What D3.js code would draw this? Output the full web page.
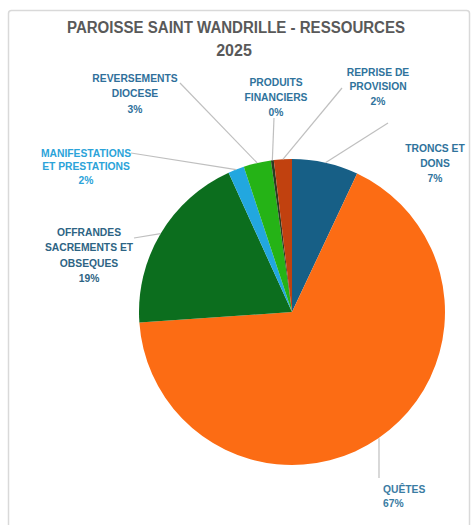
<!DOCTYPE html>
<html>
<head>
<meta charset="utf-8">
<script src="https://cdn.jsdelivr.net/npm/d3@7"></script>
<style>
  html, body { margin: 0; padding: 0; background: #ffffff; }
  svg { display: block; }
</style>
</head>
<body>
<svg id="chart" width="476" height="525"></svg>
<script>
// ---- Data ----
const categories = [
  "TRONCS ET DONS",
  "QUÊTES",
  "OFFRANDES SACREMENTS ET OBSEQUES",
  "MANIFESTATIONS ET PRESTATIONS",
  "REVERSEMENTS DIOCESE",
  "PRODUITS FINANCIERS",
  "REPRISE DE PROVISION"
];
const values = [7.0, 66.9, 19.3, 1.7, 2.9, 0.3, 1.9];
const percentLabels = ["7%", "67%", "19%", "2%", "3%", "0%", "2%"];
const titleLines = ["PAROISSE SAINT WANDRILLE - RESSOURCES", "2025"];

// ---- Styling / layout (kept separate from data) ----
const colors = ["#175f86", "#fc6c14", "#0c6e1e", "#22a7df", "#25b316", "#2b3b22", "#c1410f"];
const labelColors = ["#2f739c", "#3a7ca3", "#2d6484", "#2ba3d9", "#2f709b", "#2f739c", "#2f739c"];
const labelLines = [
  ["TRONCS ET", "DONS"],
  ["QUÊTES"],
  ["OFFRANDES", "SACREMENTS ET", "OBSEQUES"],
  ["MANIFESTATIONS", "ET PRESTATIONS"],
  ["REVERSEMENTS", "DIOCESE"],
  ["PRODUITS", "FINANCIERS"],
  ["REPRISE DE", "PROVISION"]
];
// label block: x, y (first line center), anchor, line height, leader start point
const labelLayout = [
  {x: 435, y: 148, anchor: "middle", lh: 15, lead: [388, 123]},
  {x: 383, y: 489, anchor: "start",  lh: 14, lead: [379, 478]},
  {x: 89,  y: 232, anchor: "middle", lh: 15.5, lead: [134, 238]},
  {x: 86,  y: 153, anchor: "middle", lh: 13.5, lead: [131, 153]},
  {x: 135, y: 78,  anchor: "middle", lh: 15.5, lead: [180, 83]},
  {x: 276, y: 82,  anchor: "middle", lh: 15, lead: [274, 118]},
  {x: 378, y: 72,  anchor: "middle", lh: 14.5, lead: [342, 88]}
];

const W = 476, H = 525;
const cx = 292, cy = 312, R = 153;

const svg = d3.select("#chart");

// chart area border
svg.append("rect")
  .attr("x", 8.5).attr("y", 10.5)
  .attr("width", 461).attr("height", 540)
  .attr("rx", 3)
  .attr("fill", "#ffffff")
  .attr("stroke", "#d9d9d9")
  .attr("stroke-width", 1.5);

// title
svg.selectAll("text.title")
  .data(titleLines)
  .join("text")
  .attr("class", "title")
  .attr("x", (d, i) => i === 0 ? 236 : 234)
  .attr("y", (d, i) => 33 + i * 23)
  .attr("text-anchor", "middle")
  .attr("font-family", "'Liberation Sans', Arial, sans-serif")
  .attr("font-weight", "bold")
  .attr("font-size", 16)
  .attr("fill", "#595959")
  .each(function(d, i) {
    if (i === 0) d3.select(this).attr("textLength", 338).attr("lengthAdjust", "spacingAndGlyphs");
  })
  .text(d => d);

const pie = d3.pie().value(d => d).sort(null);
const arcs = pie(values);
const arc = d3.arc().innerRadius(0).outerRadius(R);

const g = svg.append("g").attr("transform", `translate(${cx},${cy})`);

g.selectAll("path.slice")
  .data(arcs)
  .join("path")
  .attr("class", "slice")
  .attr("d", arc)
  .attr("fill", (d, i) => colors[i])
  .attr("stroke", "none");

// leader lines
const edgePoint = d => {
  const a = (d.startAngle + d.endAngle) / 2;
  return [cx + R * Math.sin(a), cy - R * Math.cos(a)];
};
svg.selectAll("line.leader")
  .data(arcs)
  .join("line")
  .attr("class", "leader")
  .attr("x1", (d, i) => labelLayout[i].lead[0])
  .attr("y1", (d, i) => labelLayout[i].lead[1])
  .attr("x2", (d, i) => { const p = edgePoint(d); return i === 1 ? labelLayout[i].lead[0] : p[0]; })
  .attr("y2", d => edgePoint(d)[1])
  .attr("stroke", "#bfbfbf")
  .attr("stroke-width", 1.2);

// labels
const labelG = svg.selectAll("g.lbl")
  .data(arcs)
  .join("g")
  .attr("class", "lbl");

labelG.each(function(d, i) {
  const L = labelLayout[i];
  const lines = labelLines[i].concat([percentLabels[i]]);
  const t = d3.select(this).append("text")
    .attr("text-anchor", L.anchor)
    .attr("font-family", "'Liberation Sans', Arial, sans-serif")
    .attr("font-weight", "bold")
    .attr("font-size", 10.3)
    .attr("fill", labelColors[i]);
  lines.forEach((ln, k) => {
    t.append("tspan")
      .attr("x", L.x)
      .attr("y", L.y + k * L.lh + 3.7)
      .text(ln);
  });
});
</script>
</body>
</html>
